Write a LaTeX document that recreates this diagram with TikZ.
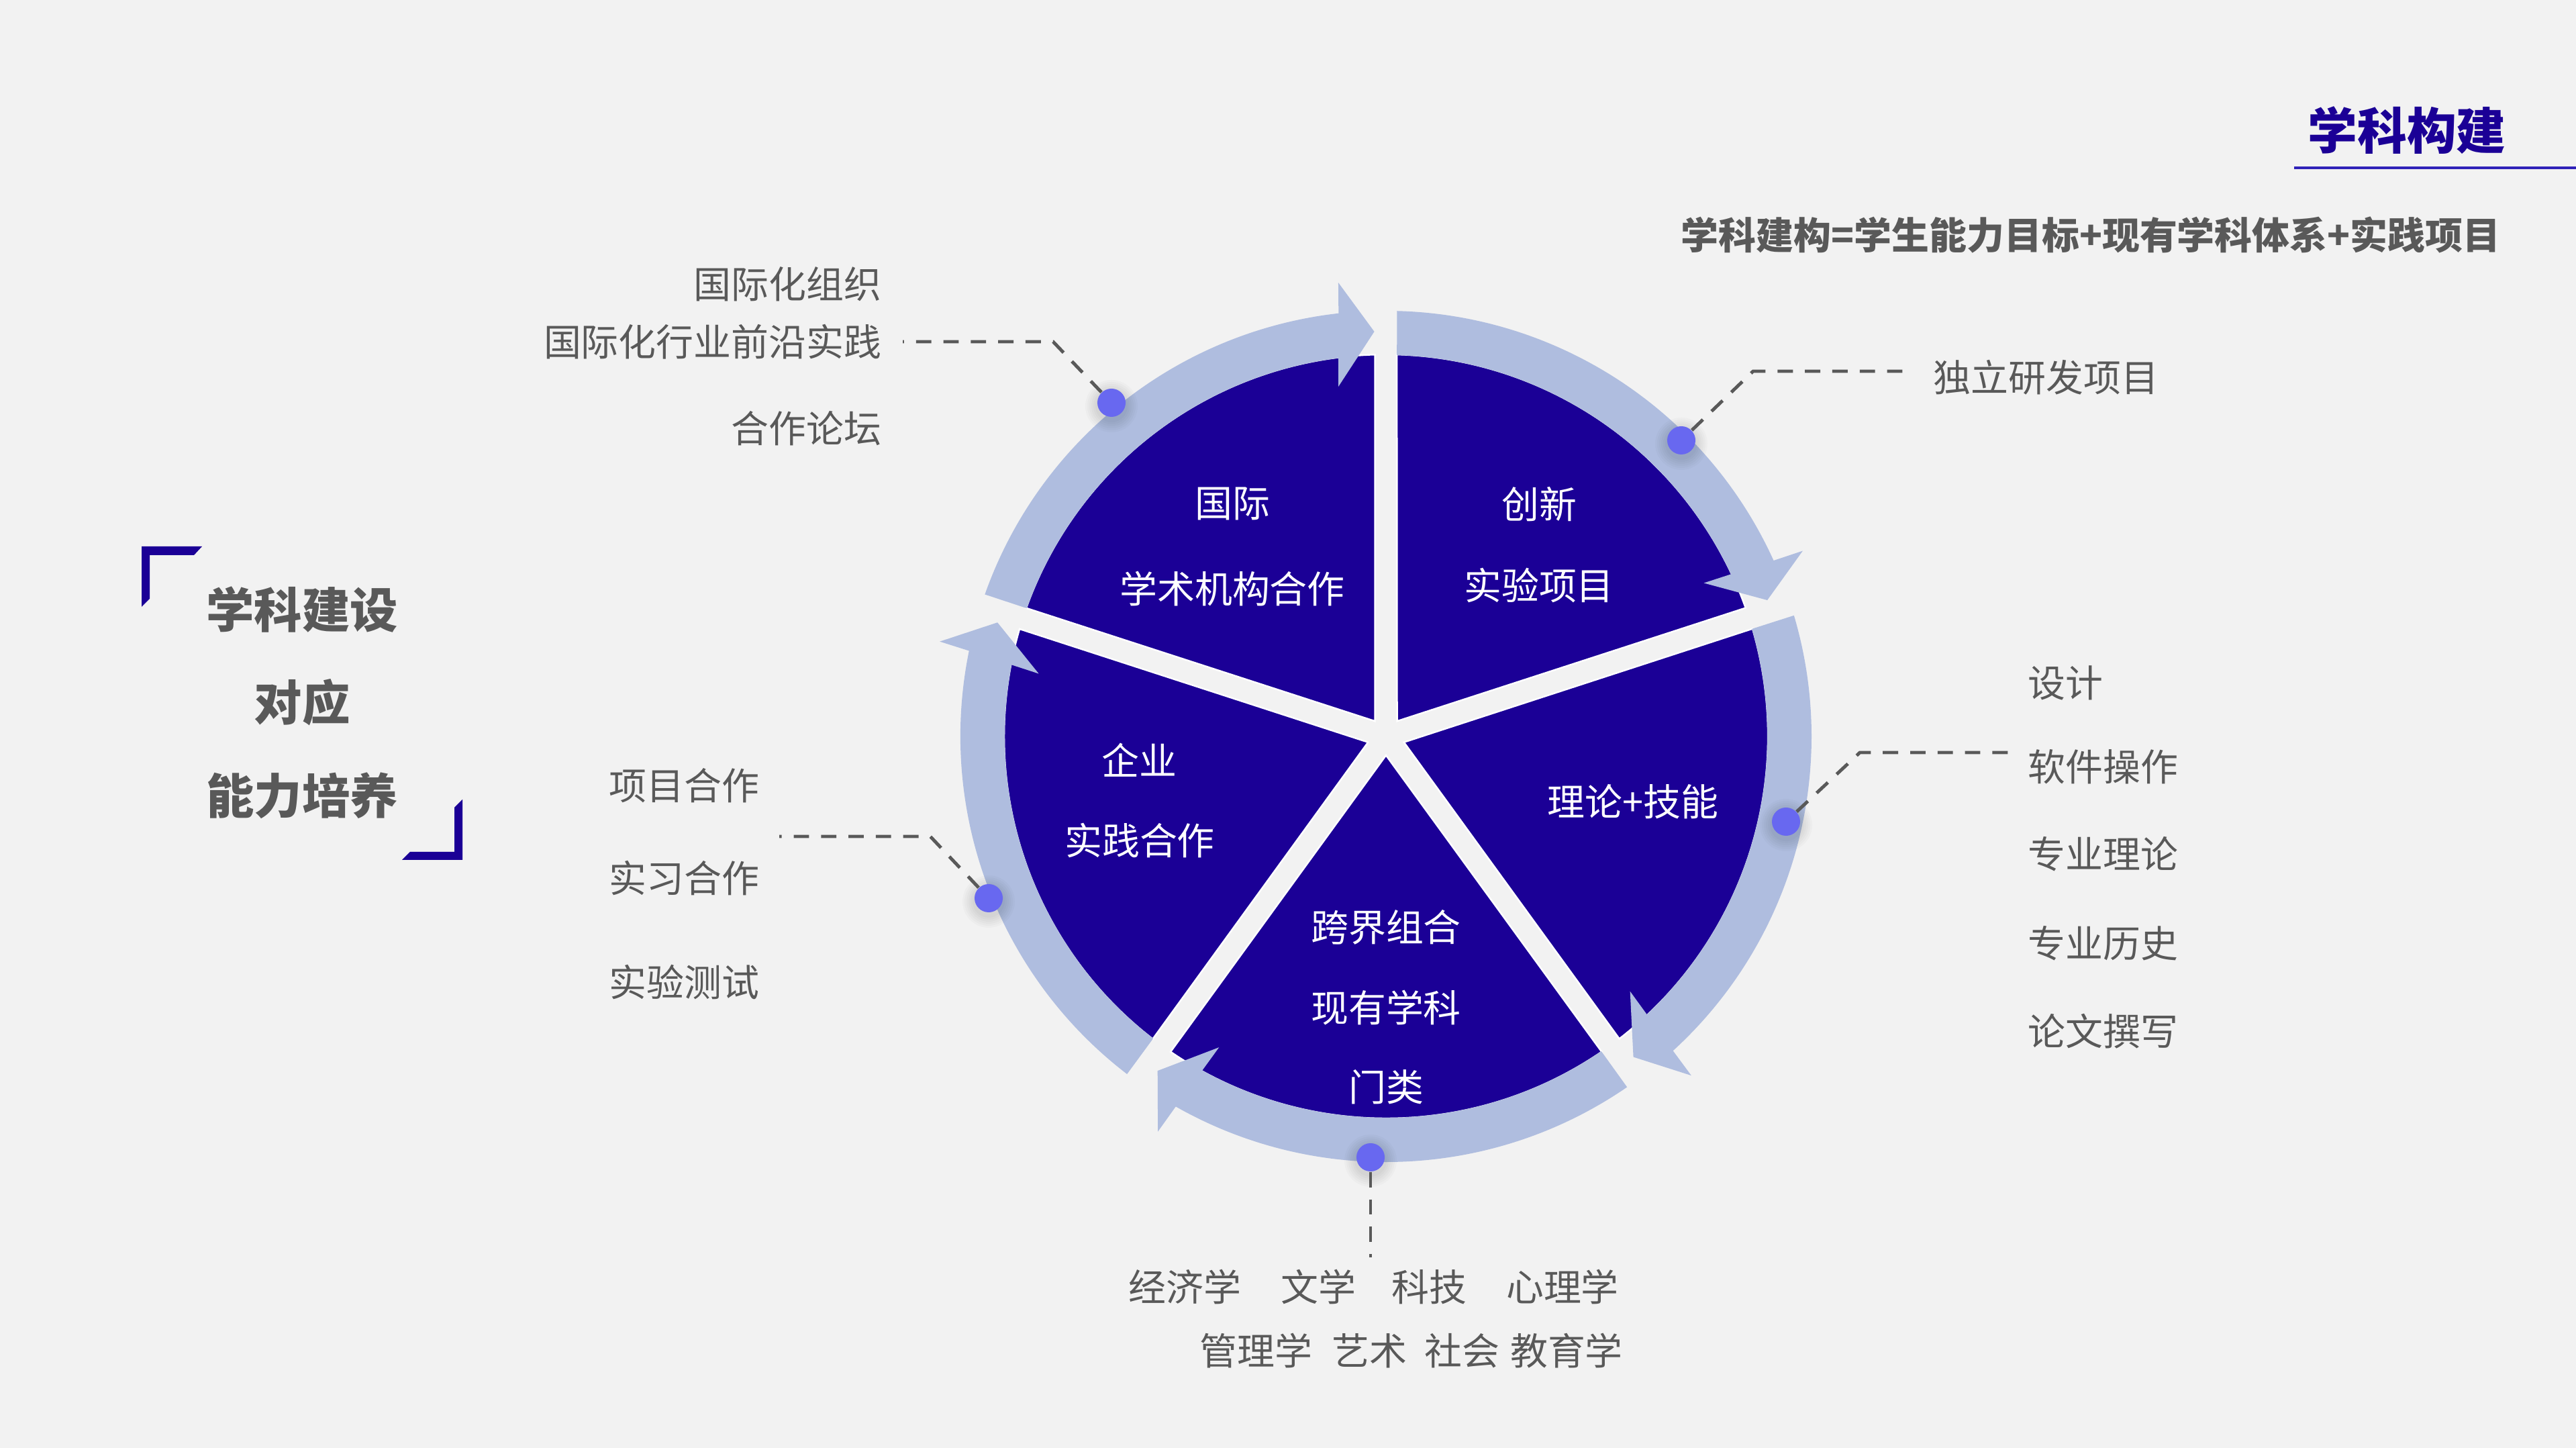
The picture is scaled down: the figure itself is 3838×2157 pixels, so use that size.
\documentclass[tikz,border=0pt]{standalone}
\usepackage{fontspec}
\setmainfont{Noto Sans CJK SC}
\usetikzlibrary{calc}

\definecolor{bgcol}{HTML}{F2F2F2}
\definecolor{pienavy}{HTML}{1B0096}
\definecolor{lineblue}{HTML}{3022B8}
\definecolor{ringblue}{HTML}{AFBDDF}
\definecolor{dotblue}{HTML}{6868F0}
\definecolor{txtgray}{HTML}{595959}

\begin{document}
\begin{tikzpicture}[x=0.01cm, y=0.01cm,
    lbl/.style={text=txtgray, font=\fontsize{15.9pt}{18pt}\selectfont, inner sep=0pt},
    wlbl/.style={text=white, font=\fontsize{15.9pt}{18pt}\selectfont, inner sep=0pt},
    dot/.style={circle, fill=dotblue, minimum size=0.42cm, inner sep=0pt},
    link/.style={draw=txtgray, line width=1.4pt, dash pattern=on 6.5pt off 5.1pt}]

    % background
    \fill[bgcol] (0,0) rectangle (3838,2157);
    \useasboundingbox (0,0) rectangle (3838,2157);

    % title
    \node[text=pienavy, font=\fontsize{21pt}{24pt}\selectfont\bfseries, inner sep=0pt] (title) at (3586,1963) {学科构建};
    \coordinate (ulA) at (3418,1907);
    \coordinate (ulB) at (3838,1907);
    \draw[lineblue, line width=0.9pt] (ulA) -- (ulB);
    \node[lbl, font=\fontsize{15.9pt}{18pt}\selectfont\bfseries, anchor=east] (formula) at (3726,1807) {学科建构=学生能力目标+现有学科体系+实践项目};

    % left box
    \foreach \txt/\y [count=\i] in {学科建设/1249, 对应/1111, 能力培养/972} {
        \node[lbl, font=\fontsize{20.3pt}{24pt}\selectfont\bfseries] (box\i) at (450,\y) {\txt};
    }
    \fill[pienavy] (211,1343) -- (301,1343) -- (289,1330) -- (223,1330) -- (223,1265) -- (211,1253) -- cycle;
    \fill[pienavy] (689,876) -- (599,876) -- (611,888) -- (677,888) -- (677,954) -- (689,966) -- cycle;

    % pie and arrows
    \begin{scope}[shift={(2065,1060)}]
        \foreach \g in {90,18,-54,-126,-198} {
            \pgfmathsetmacro{\a}{\g+1.66}
            \pgfmathsetmacro{\b}{\g+70.34}
            \pgfmathsetmacro{\m}{\g+36}
            \filldraw[fill=pienavy, draw=white, line width=0.7pt] (\m:28.1) -- (\a:569)
                arc[start angle=\a, end angle=\b, radius=5.69cm] -- cycle;
        }
        \foreach \g in {90,18,-54,-126,-198} {
            \pgfmathsetmacro{\t}{\g+72}
            \fill[ringblue] (\t-1.49:634) arc[start angle=\t-1.49, end angle=\g+6.43, radius=6.34cm]
                -- (\g+6.0:679.7) -- (\g+1.66:603.3) -- (\g+7.76:525.8) -- (\g+7.18:568)
                arc[start angle=\g+7.18, end angle=\t-1.66, radius=5.68cm] -- cycle;
        }
    \end{scope}

    % sector texts
    \node[wlbl] (intlA) at (1836,1407) {国际};
    \node[wlbl] (intlB) at (1836,1280) {学术机构合作};
    \node[wlbl] (innoA) at (2293,1406) {创新};
    \node[wlbl] (innoB) at (2293,1285) {实验项目};
    \node[wlbl] (theory) at (2433,963) {理论+技能};
    \node[wlbl] (firmA) at (1697,1025) {企业};
    \node[wlbl] (firmB) at (1698,905) {实践合作};
    \node[wlbl] (crossA) at (2065,776) {跨界组合};
    \node[wlbl] (crossB) at (2065,656) {现有学科};
    \node[wlbl] (crossC) at (2065,538) {门类};

    % dots
    \foreach \n/\x/\y in {d1/1656/1557, d2/2505/1501, d3/2661/933, d4/1473/819, d5/2042/433} {
        \foreach \k in {1,...,6} {
            \pgfmathsetmacro{\rad}{0.21+0.03*\k}
            \fill[black, opacity=0.018] (\x,\y-5) circle[radius=\rad cm];
        }
        \node[dot] (\n) at (\x,\y) {};
    }

    % links
    \coordinate (k1) at (1569,1648);
    \coordinate (e1) at (1345,1648);
    \coordinate (k2) at (2612,1604);
    \coordinate (e2) at (2838,1604);
    \coordinate (k3) at (2771,1036);
    \coordinate (e3) at (2994,1036);
    \coordinate (k4) at (1386,911);
    \coordinate (e4) at (1161,911);
    \coordinate (e5) at (2042,284);
    \draw[link] (d1) -- (k1) -- (e1);
    \draw[link] (d2) -- (k2) -- (e2);
    \draw[link] (d3) -- (k3) -- (e3);
    \draw[link] (d4) -- (k4) -- (e4);
    \draw[link] (d5) -- (e5);

    % outer labels
    \foreach \txt/\y [count=\i] in {国际化组织/1734, 国际化行业前沿实践/1648, 合作论坛/1519} {
        \node[lbl, anchor=east] (intl\i) at (1314,\y) {\txt};
    }
    \node[lbl, anchor=west] (rnd) at (2880,1595) {独立研发项目};
    \foreach \txt/\y [count=\i] in {设计/1140, 软件操作/1015, 专业理论/885, 专业历史/752, 论文撰写/621} {
        \node[lbl, anchor=west] (skill\i) at (3021,\y) {\txt};
    }
    \foreach \txt/\y [count=\i] in {项目合作/987, 实习合作/849, 实验测试/694} {
        \node[lbl, anchor=west] (coop\i) at (907,\y) {\txt};
    }
    \node[lbl, anchor=west] (fields1) at (1681,240) {经济学\hspace{0.59cm}文学\hspace{0.53cm}科技\hspace{0.59cm}心理学};
    \node[lbl, anchor=west] (fields2) at (1787,145) {管理学\hspace{0.29cm}艺术\hspace{0.26cm}社会\hspace{0.16cm}教育学};

\end{tikzpicture}
\end{document}
